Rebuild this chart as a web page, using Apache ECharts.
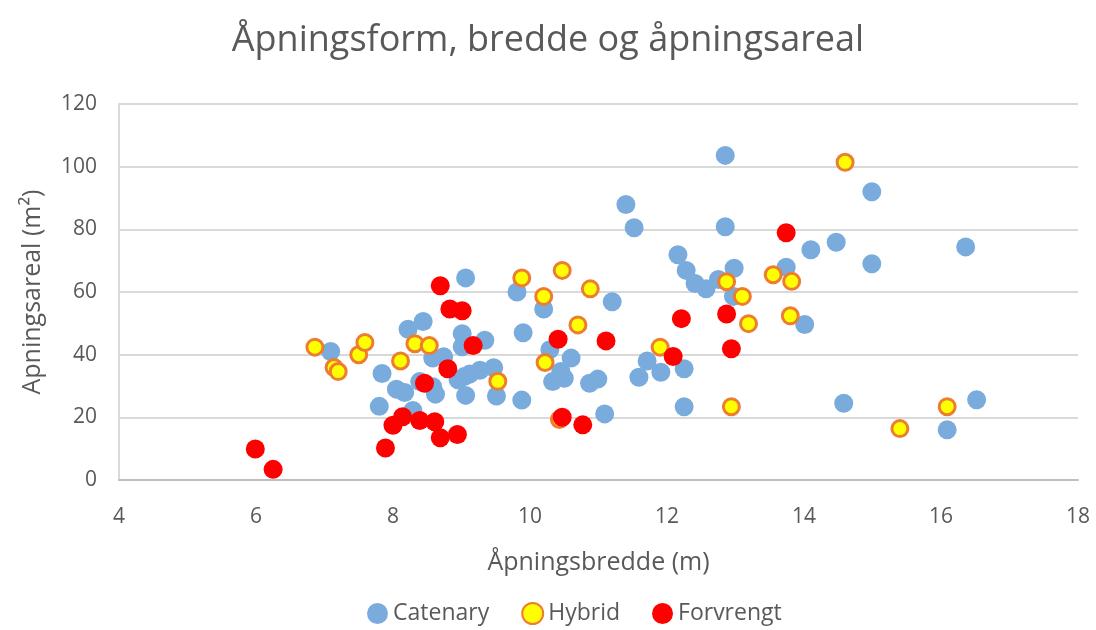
<!DOCTYPE html>
<html>
<head>
<meta charset="utf-8">
<script src="https://cdn.jsdelivr.net/npm/echarts@6/dist/echarts.min.js"></script>
<style>
  html, body { margin: 0; padding: 0; background: #fff; }
  #chart { width: 1096px; height: 630px; }
</style>
</head>
<body>
<div id="chart"></div>
<script>
var xTicks = [4, 6, 8, 10, 12, 14, 16, 18];
var yTicks = [0, 20, 40, 60, 80, 100, 120];

var catenary = [
  [7.09, 41.0], [7.84, 34.0], [7.80, 23.5], [8.05, 29.0], [8.17, 27.9], [8.22, 48.1],
  [8.29, 22.2], [8.39, 31.4], [8.44, 50.6], [8.58, 38.9], [8.74, 39.3], [8.58, 29.8],
  [8.62, 27.4], [8.95, 32.0], [9.01, 46.7], [9.01, 42.5], [9.06, 64.5], [9.04, 33.0],
  [9.12, 33.8], [9.06, 27.0], [9.27, 35.0], [9.34, 44.6], [9.47, 35.8], [9.51, 26.8],
  [9.81, 60.0], [9.88, 25.5], [9.90, 47.0], [10.20, 54.6], [10.29, 41.6], [10.33, 31.4],
  [10.45, 34.6], [10.50, 32.5], [10.60, 38.9], [10.87, 30.9], [10.99, 32.2], [11.09, 21.1],
  [11.20, 56.9], [11.40, 87.9], [11.52, 80.5], [11.59, 32.8], [11.71, 38.0], [11.91, 34.4],
  [12.16, 71.9], [12.25, 35.5], [12.25, 23.4], [12.28, 66.9], [12.41, 62.7], [12.57, 61.0],
  [12.75, 64.0], [12.85, 103.6], [12.85, 80.8], [12.97, 58.6], [12.98, 67.6], [13.74, 67.9],
  [14.01, 49.6], [14.10, 73.5], [14.47, 75.9], [14.58, 24.5], [14.99, 92.0], [14.99, 69.0],
  [16.09, 16.0], [16.36, 74.4], [16.52, 25.6]
];

var hybrid = [
  [6.86, 42.4], [7.14, 35.9], [7.20, 34.6], [7.50, 40.0], [7.59, 43.9], [8.11, 38.0],
  [8.32, 43.5], [8.53, 42.9], [9.53, 31.5], [9.88, 64.5], [10.20, 58.6], [10.22, 37.5],
  [10.43, 19.3], [10.47, 66.9], [10.70, 49.5], [10.88, 61.0], [11.90, 42.4], [12.87, 63.3],
  [12.94, 23.4], [13.10, 58.6], [13.19, 49.9], [13.55, 65.5], [13.80, 52.4], [13.82, 63.4],
  [14.60, 101.4], [15.40, 16.4], [16.09, 23.4]
];

var forvrengt = [
  [5.99, 9.9], [6.25, 3.4], [7.89, 10.2], [8.00, 17.5], [8.14, 20.2], [8.39, 19.0],
  [8.46, 30.9], [8.61, 18.6], [8.69, 13.5], [8.69, 62.0], [8.80, 35.5], [8.83, 54.6],
  [8.94, 14.5], [9.01, 54.0], [9.17, 42.9], [10.41, 44.9], [10.47, 20.0], [10.77, 17.6],
  [11.11, 44.4], [12.09, 39.4], [12.21, 51.5], [12.87, 53.0], [12.94, 41.9], [13.74, 78.9]
];

var font = 'Open Sans';
var textColor = '#595959';

var chart = echarts.init(document.getElementById('chart'));

var option = {
  backgroundColor: '#fff',
  animation: false,
  title: {
    text: 'Åpningsform, bredde og åpningsareal',
    left: 'center',
    top: 18,
    textStyle: { fontFamily: font, fontSize: 36, fontWeight: 'normal', color: textColor }
  },
  legend: {
    bottom: 0,
    left: 362,
    itemWidth: 21,
    itemHeight: 21,
    itemGap: 32,
    icon: 'circle',
    textStyle: { fontFamily: font, fontSize: 23, color: textColor },
    data: ['Catenary', 'Hybrid', 'Forvrengt']
  },
  grid: { left: 119, right: 18, top: 104, bottom: 150 },
  xAxis: {
    type: 'value',
    min: xTicks[0],
    max: xTicks[xTicks.length - 1],
    interval: 2,
    name: 'Åpningsbredde (m)',
    nameLocation: 'middle',
    nameGap: 70,
    nameTextStyle: { fontFamily: font, fontSize: 25, color: textColor },
    axisLine: { show: true, lineStyle: { color: '#bfbfbf', width: 2 } },
    axisTick: { show: false },
    splitLine: { show: false },
    axisLabel: { fontFamily: font, fontSize: 21, color: textColor, margin: 27 }
  },
  yAxis: {
    type: 'value',
    min: yTicks[0],
    max: yTicks[yTicks.length - 1],
    interval: 20,
    name: 'Apningsareal (m²)',
    nameLocation: 'middle',
    nameGap: 74,
    nameTextStyle: { fontFamily: font, fontSize: 25, color: textColor },
    axisLine: { show: true, lineStyle: { color: '#d9d9d9', width: 2 } },
    axisTick: { show: false },
    splitLine: { show: true, lineStyle: { color: '#d9d9d9', width: 2 } },
    axisLabel: { fontFamily: font, fontSize: 21, color: textColor, margin: 22 }
  },
  series: [
    {
      name: 'Catenary',
      type: 'scatter',
      symbolSize: 19,
      itemStyle: { color: '#79acdd', opacity: 1 },
      data: catenary
    },
    {
      name: 'Hybrid',
      type: 'scatter',
      symbolSize: 16,
      itemStyle: { color: '#ffff00', borderColor: '#ed7d31', borderWidth: 3, opacity: 1 },
      data: hybrid
    },
    {
      name: 'Forvrengt',
      type: 'scatter',
      symbolSize: 19,
      itemStyle: { color: '#ff0000', opacity: 1 },
      data: forvrengt
    }
  ]
};

chart.setOption(option);
</script>
</body>
</html>
